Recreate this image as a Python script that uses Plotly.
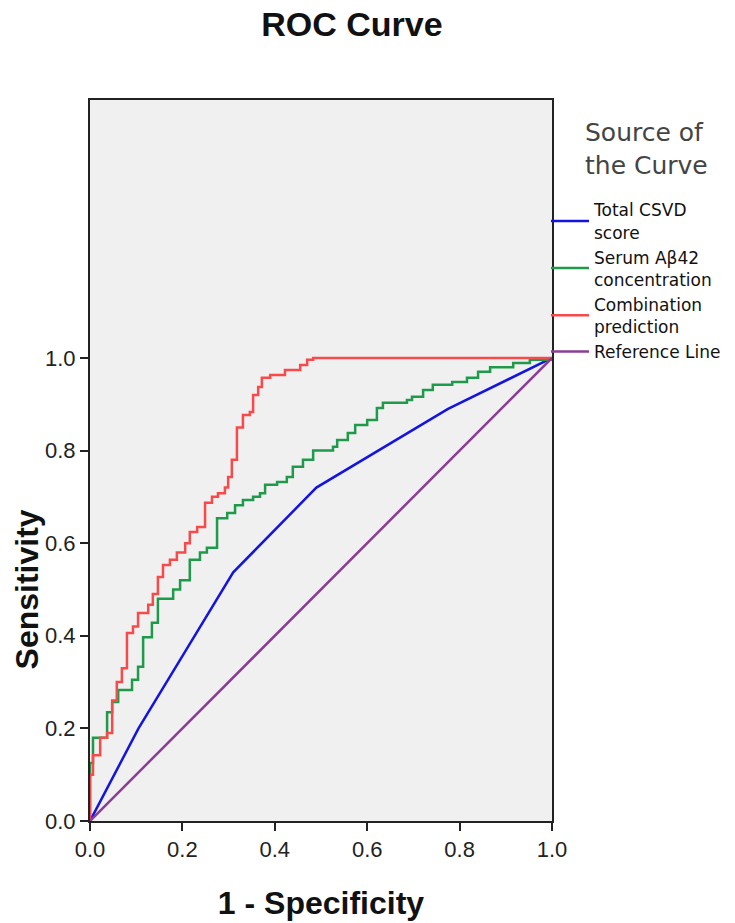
import plotly.graph_objects as go

# ---- data ----
ref_x = [0.0, 1.0]
ref_y = [0.0, 1.0]

csvd_x = [0.0, 0.105, 0.195, 0.31, 0.49, 0.775, 1.0]
csvd_y = [0.0, 0.200, 0.348, 0.537, 0.720, 0.890, 1.0]

abeta_x = [0.0, 0.0, 0.0065, 0.037, 0.048, 0.061, 0.091, 0.104, 0.115, 0.134, 0.147, 0.180,
           0.195, 0.216, 0.238, 0.253, 0.275, 0.297, 0.314, 0.331, 0.353, 0.368, 0.379,
           0.405, 0.426, 0.439, 0.461, 0.483, 0.526, 0.535, 0.558, 0.574, 0.600, 0.621,
           0.634, 0.686, 0.697, 0.721, 0.742, 0.784, 0.816, 0.840, 0.866, 0.916, 0.952, 1.0]
abeta_y = [0.0, 0.125, 0.180, 0.235, 0.257, 0.283, 0.305, 0.333, 0.397, 0.428, 0.480, 0.500,
           0.520, 0.564, 0.580, 0.590, 0.654, 0.665, 0.682, 0.693, 0.700, 0.708, 0.726,
           0.732, 0.743, 0.765, 0.780, 0.800, 0.808, 0.823, 0.838, 0.855, 0.866, 0.892,
           0.903, 0.909, 0.916, 0.931, 0.942, 0.948, 0.957, 0.970, 0.980, 0.989, 0.996, 1.0]

comb_x = [0.0, 0.0, 0.0065, 0.022, 0.037, 0.048, 0.058, 0.069, 0.080, 0.093, 0.104, 0.126,
          0.136, 0.147, 0.158, 0.173, 0.188, 0.206, 0.216, 0.232, 0.249, 0.264, 0.277,
          0.292, 0.299, 0.307, 0.318, 0.331, 0.346, 0.353, 0.364, 0.372, 0.390, 0.422,
          0.455, 0.470, 0.483, 1.0]
comb_y = [0.0, 0.100, 0.142, 0.180, 0.190, 0.260, 0.300, 0.330, 0.406, 0.420, 0.449, 0.467,
          0.490, 0.527, 0.553, 0.564, 0.580, 0.600, 0.624, 0.635, 0.687, 0.700, 0.708,
          0.720, 0.743, 0.780, 0.850, 0.877, 0.883, 0.920, 0.937, 0.957, 0.963, 0.974,
          0.985, 0.996, 1.000, 1.0]

tick_vals = [0.0, 0.2, 0.4, 0.6, 0.8, 1.0]
tick_text = ["0.0", "0.2", "0.4", "0.6", "0.8", "1.0"]

names = ["Total CSVD<br>score", "Serum Aβ42<br>concentration",
         "Combination<br>prediction", "Reference Line"]
colors = ["#1414e0", "#1f9a4a", "#f84a4a", "#8b3d96"]

fig = go.Figure()
fig.add_trace(go.Scatter(x=csvd_x, y=csvd_y, mode="lines", name=names[0],
                         line=dict(color=colors[0], width=2.5), legendgroup="a"))
fig.add_trace(go.Scatter(x=abeta_x, y=abeta_y, mode="lines", name=names[1],
                         line=dict(color=colors[1], width=2.5, shape="hv"), legendgroup="b"))
fig.add_trace(go.Scatter(x=comb_x, y=comb_y, mode="lines", name=names[2],
                         line=dict(color=colors[2], width=2.5, shape="hv"), legendgroup="c"))
fig.add_trace(go.Scatter(x=ref_x, y=ref_y, mode="lines", name=names[3],
                         line=dict(color=colors[3], width=2.5), legendgroup="d"))

FONT = "Liberation Sans, Arial, sans-serif"
axis_common = dict(showgrid=False, zeroline=False, showline=True, linecolor="#222",
                   linewidth=2, mirror=True, ticks="outside", ticklen=8, tickwidth=2,
                   tickcolor="#222", tickvals=tick_vals, ticktext=tick_text, automargin=False,
                   tickfont=dict(family=FONT, size=22, color="#222"))

fig.update_layout(
    width=735, height=923,
    margin=dict(l=82, r=191, t=92, b=110),
    paper_bgcolor="white", plot_bgcolor="#f0f0f0",
    title=dict(text="<b>ROC Curve</b>", x=0.468, xanchor="center", xref="container",
               y=0.996, yanchor="top", yref="container", pad=dict(t=0, b=0),
               font=dict(family=FONT, size=34, color="#111")),
    xaxis=dict(range=[0, 1], title=dict(text="<b>1 - Specificity</b>", standoff=30,
               font=dict(family=FONT, size=32, color="#111")),
               **axis_common),
    yaxis=dict(range=[0, 1.557], **axis_common),
    showlegend=True,
    legend=dict(x=0.987, xanchor="left", y=0.872, yanchor="top", itemwidth=38,
                bgcolor="rgba(0,0,0,0)", tracegroupgap=0,
                font=dict(family="DejaVu Sans", size=17, color="#111")),
    annotations=[
        dict(text="<b>Sensitivity</b>", x=-82 / 462, xref="paper", y=0.5, yref="y",
             textangle=-90, showarrow=False, xanchor="left", yanchor="middle",
             borderpad=0,
             font=dict(family=FONT, size=32, color="#111")),
        dict(text="Source of<br>the Curve", x=(575 - 82) / 462, xref="paper",
             y=1 - (141 - 92) / 721, yref="paper", showarrow=False, xanchor="left",
             yanchor="middle", align="left",
             font=dict(family="DejaVu Sans", size=25, color="#444")),
    ],
)

fig.write_html("out.html")
